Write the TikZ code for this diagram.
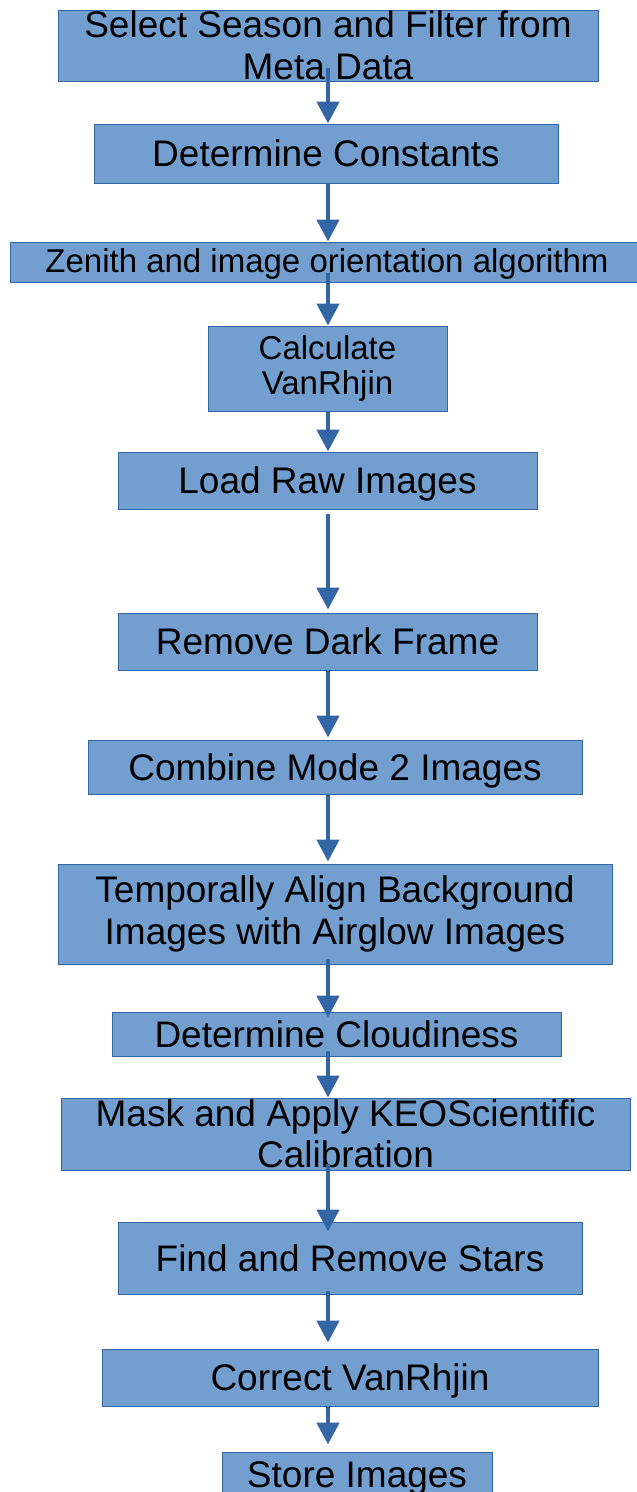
\documentclass[tikz,border=0pt]{standalone}
\usepackage{fontspec}
\setmainfont{Liberation Sans}
\usetikzlibrary{arrows.meta}
\definecolor{boxfill}{HTML}{729FCF}
\definecolor{boxline}{HTML}{3465A4}
\tikzset{
  stepbox/.style={rectangle, draw=boxline, fill=boxfill, line width=1pt, inner sep=0pt,
    align=center, text=black, font=\fontsize{37}{41.5}\selectfont},
  onebox/.style={stepbox, text height=30pt, text depth=4pt},
  smallbox/.style={stepbox, font=\fontsize{33}{35.5}\selectfont},
  arr/.style={draw=boxline, line width=4.5pt, -{Triangle[width=22pt,length=22pt]}, fill=boxline}
}
\begin{document}
\begin{tikzpicture}[x=1pt,y=-1pt]
\useasboundingbox (0,0) rectangle (637,1492);
\node[stepbox, minimum width=540pt, minimum height=71pt] (n1) at (328,45.5) {Select Season and Filter from\\Meta Data};
\node[onebox, minimum width=464pt, minimum height=59pt] (n2) at (326,153.5) {Determine Constants};
\node[smallbox, text height=26pt, text depth=6pt, minimum width=634pt, minimum height=40pt] (n3) at (327,262) {Zenith and image orientation algorithm};
\node[smallbox, minimum width=239pt, minimum height=85pt] (n4) at (327.5,368.5) {Calculate\\VanRhjin};
\node[onebox, minimum width=419pt, minimum height=57pt] (n5) at (327.5,480.5) {Load Raw Images};
\node[onebox, minimum width=419pt, minimum height=57pt] (n6) at (327.5,641.5) {Remove Dark Frame};
\node[onebox, minimum width=494pt, minimum height=54pt] (n7) at (335,767) {Combine Mode 2 Images};
\node[stepbox, minimum width=554pt, minimum height=100pt] (n8) at (335,914) {Temporally Align Background\\Images with Airglow Images};
\node[onebox, minimum width=449pt, minimum height=44pt] (n9) at (336.5,1034) {Determine Cloudiness};
\node[stepbox, minimum width=569pt, minimum height=72pt] (n10) at (345.5,1134) {Mask and Apply KEOScientific\\Calibration};
\node[onebox, minimum width=464pt, minimum height=72pt] (n11) at (350,1258) {Find and Remove Stars};
\node[onebox, minimum width=496pt, minimum height=57pt] (n12) at (350,1377.5) {Correct VanRhjin};
\node[stepbox, text height=30pt, text depth=4pt, minimum width=270pt, minimum height=44pt] (n13) at (357,1474) {Store Images};
\coordinate (ax) at (328,0);
\draw[arr] ([yshift=14pt]n1.south -| ax) -- (n2.north -| ax);
\draw[arr] (n2.south -| ax) -- (n3.north -| ax);
\draw[arr] ([yshift=10pt]n3.south -| ax) -- (n4.north -| ax);
\draw[arr] (n4.south -| ax) -- (n5.north -| ax);
\draw[arr] ([yshift=-4pt]n5.south -| ax) -- ([yshift=3pt]n6.north -| ax);
\draw[arr] (n6.south -| ax) -- ([yshift=2pt]n7.north -| ax);
\draw[arr] (n7.south -| ax) -- ([yshift=2pt]n8.north -| ax);
\draw[arr] ([yshift=6pt]n8.south -| ax) -- ([yshift=-6pt]n9.north -| ax);
\draw[arr] ([yshift=6pt]n9.south -| ax) -- (n10.north -| ax);
\draw[arr] ([yshift=7pt]n10.south -| ax) -- ([yshift=-10pt]n11.north -| ax);
\draw[arr] ([yshift=4pt]n11.south -| ax) -- ([yshift=6pt]n12.north -| ax);
\draw[arr] (n12.south -| ax) -- ([yshift=7pt]n13.north -| ax);
\end{tikzpicture}
\end{document}
